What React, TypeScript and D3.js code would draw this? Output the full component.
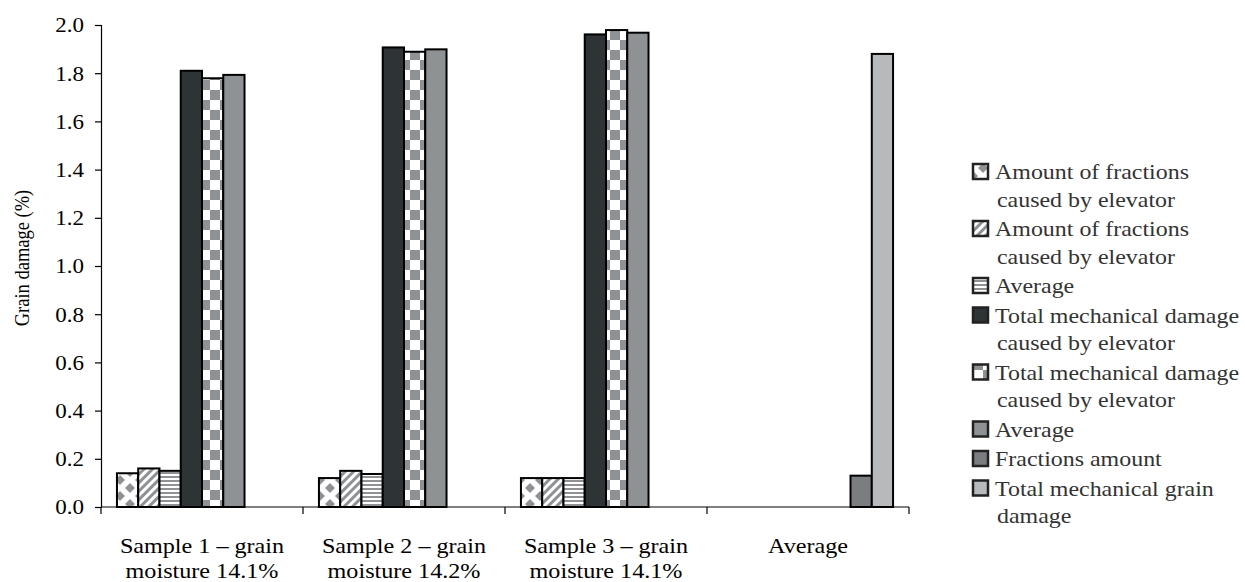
import { useEffect, useRef } from 'react'
import * as d3 from 'd3'

// categories (two text lines each)
const categoryLines = [
  ['Sample 1 – grain', 'moisture 14.1%'],
  ['Sample 2 – grain', 'moisture 14.2%'],
  ['Sample 3 – grain', 'moisture 14.1%'],
  ['Average'],
]

const seriesNames = [
  'Amount of fractions caused by elevator',
  'Amount of fractions caused by elevator',
  'Average',
  'Total mechanical damage caused by elevator',
  'Total mechanical damage caused by elevator',
  'Average',
  'Fractions amount',
  'Total mechanical grain damage',
]

// legend text wrapped like the original
const legendLines = [
  ['Amount of fractions', 'caused by elevator'],
  ['Amount of fractions', 'caused by elevator'],
  ['Average'],
  ['Total mechanical damage', 'caused by elevator'],
  ['Total mechanical damage', 'caused by elevator'],
  ['Average'],
  ['Fractions amount'],
  ['Total mechanical grain', 'damage'],
]

// series values per category (null = no bar)
const fractionsElevatorA = [0.14, 0.12, 0.12, null]
const fractionsElevatorB = [0.16, 0.15, 0.12, null]
const fractionsAverage = [0.15, 0.137, 0.12, null]
const totalDamageA = [1.81, 1.907, 1.961, null]
const totalDamageB = [1.779, 1.889, 1.979, null]
const totalAverage = [1.793, 1.899, 1.968, null]
const fractionsAmount = [null, null, null, 0.13]
const totalGrainDamage = [null, null, null, 1.88]

const yTicks = [0, 0.2, 0.4, 0.6, 0.8, 1.0, 1.2, 1.4, 1.6, 1.8, 2.0]

const fills = [
  'url(#pDiamond)',
  'url(#pDiag)',
  'url(#pHoriz)',
  '#2e3336',
  'url(#pChecker)',
  '#8f9295',
  '#7b7e80',
  '#b6babc',
]

type Datum = { cat: number; s: number; v: number }

export default () => {
  const svgRef = useRef<SVGSVGElement>(null)

  useEffect(() => {
    document.body.style.margin = '0'
    const series = [
      fractionsElevatorA,
      fractionsElevatorB,
      fractionsAverage,
      totalDamageA,
      totalDamageB,
      totalAverage,
      fractionsAmount,
      totalGrainDamage,
    ]

    const width = 1245,
      height = 582
    const left = 101,
      right = 909,
      top = 25,
      bottom = 507
    const font = '"Liberation Serif", "Times New Roman", serif'
    const sx = 1.15 // the original text is a little wide

    const svg = d3
      .select(svgRef.current)
      .attr('width', width)
      .attr('height', height)
      .style('background', '#fff')
    svg.selectAll('*').remove()

    // patterns
    const defs = svg.append('defs')
    const gray = '#8f9295'

    const pDia = defs
      .append('pattern')
      .attr('id', 'pDiamond')
      .attr('patternUnits', 'userSpaceOnUse')
      .attr('width', 20)
      .attr('height', 16)
    pDia.append('rect').attr('width', 20).attr('height', 16).attr('fill', '#fff')
    ;[
      [10, 8],
      [0, 0],
      [20, 0],
      [0, 16],
      [20, 16],
    ].forEach(([cx, cy]) => {
      pDia
        .append('path')
        .attr('d', `M${cx},${cy - 5}L${cx + 5},${cy}L${cx},${cy + 5}L${cx - 5},${cy}Z`)
        .attr('fill', gray)
    })

    const pDiag = defs
      .append('pattern')
      .attr('id', 'pDiag')
      .attr('patternUnits', 'userSpaceOnUse')
      .attr('width', 6)
      .attr('height', 6)
      .attr('patternTransform', 'rotate(45)')
    pDiag.append('rect').attr('width', 6).attr('height', 6).attr('fill', '#fff')
    pDiag.append('rect').attr('width', 3).attr('height', 6).attr('fill', gray)

    const pHoriz = defs
      .append('pattern')
      .attr('id', 'pHoriz')
      .attr('patternUnits', 'userSpaceOnUse')
      .attr('width', 4)
      .attr('height', 4)
    pHoriz.append('rect').attr('width', 4).attr('height', 4).attr('fill', '#fff')
    pHoriz.append('rect').attr('width', 4).attr('height', 2).attr('fill', gray)

    const pCheck = defs
      .append('pattern')
      .attr('id', 'pChecker')
      .attr('patternUnits', 'userSpaceOnUse')
      .attr('width', 20)
      .attr('height', 20)
    pCheck.append('rect').attr('width', 20).attr('height', 20).attr('fill', '#fff')
    pCheck.append('rect').attr('width', 10).attr('height', 10).attr('fill', gray)
    pCheck.append('rect').attr('x', 10).attr('y', 10).attr('width', 10).attr('height', 10).attr('fill', gray)

    // scales
    const x0 = d3
      .scaleBand<number>()
      .domain(d3.range(categoryLines.length))
      .range([left, right])
    const x1 = d3
      .scaleBand<number>()
      .domain(d3.range(seriesNames.length))
      .range([0, x0.bandwidth()])
      .paddingOuter(0.75)
    const y = d3.scaleLinear().domain([0, 2]).range([bottom, top])

    const data: Datum[] = []
    series.forEach((vals, s) =>
      vals.forEach((v, cat) => {
        if (v != null) data.push({ cat, s, v })
      })
    )

    // bars
    svg
      .append('g')
      .selectAll('rect')
      .data(data)
      .join('rect')
      .attr('x', (d) => (x0(d.cat) as number) + (x1(d.s) as number))
      .attr('y', (d) => y(d.v))
      .attr('width', x1.bandwidth())
      .attr('height', (d) => bottom - y(d.v))
      .attr('fill', (d) => fills[d.s])
      .attr('stroke', '#000')
      .attr('stroke-width', 2)

    // y axis
    const yAxis = svg
      .append('g')
      .attr('transform', `translate(${left},0)`)
      .call(d3.axisLeft(y).tickValues(yTicks).tickSize(6).tickFormat(d3.format('.1f')))
    yAxis.select('.domain').attr('stroke', '#000').attr('stroke-width', 1.2)
    yAxis.selectAll('.tick line').attr('stroke', '#000').attr('stroke-width', 1.2)
    yAxis
      .selectAll('.tick text')
      .attr('x', -17 / sx)
      .attr('dy', '0.34em')
      .attr('transform', `scale(${sx},1)`)
      .attr('font-family', font)
      .attr('font-size', 20)
      .attr('fill', '#000')

    // x axis
    const xAxis = svg.append('g').attr('transform', `translate(0,${bottom})`)
    xAxis
      .append('line')
      .attr('x1', left)
      .attr('x2', right)
      .attr('stroke', '#000')
      .attr('stroke-width', 1.2)
    xAxis
      .selectAll('line.tk')
      .data(d3.range(categoryLines.length + 1))
      .join('line')
      .attr('class', 'tk')
      .attr('x1', (i) => left + i * x0.step())
      .attr('x2', (i) => left + i * x0.step())
      .attr('y1', 0)
      .attr('y2', 7)
      .attr('stroke', '#000')
      .attr('stroke-width', 1.2)

    const catText = xAxis
      .selectAll('text')
      .data(categoryLines)
      .join('text')
      .attr(
        'transform',
        (_d, i) => `translate(${(x0(i) as number) + x0.bandwidth() / 2},0) scale(${sx},1)`
      )
      .attr('font-family', font)
      .attr('font-size', 21)
      .attr('fill', '#000')
      .attr('text-anchor', 'middle')
    catText
      .selectAll('tspan')
      .data((d) => d)
      .join('tspan')
      .attr('x', 0)
      .attr('y', (_d, j) => 46 + j * 25)
      .text((d) => d)

    // y title
    svg
      .append('text')
      .attr('transform', `translate(29,${(top + bottom) / 2 - 8}) scale(${sx},1) rotate(-90)`)
      .attr('text-anchor', 'middle')
      .attr('font-family', font)
      .attr('font-size', 18.5)
      .attr('fill', '#000')
      .text('Grain damage (%)')

    // legend
    const lg = svg.append('g').attr('transform', 'translate(973,0)')
    const lineH = 27.5,
      itemGap = 2
    let ly = 172
    legendLines.forEach((lines, i) => {
      lg.append('rect')
        .attr('x', 0)
        .attr('y', ly - 8)
        .attr('width', 15)
        .attr('height', 15)
        .attr('fill', fills[i])
        .attr('stroke', '#222')
        .attr('stroke-width', 2.5)
      lines.forEach((t, j) => {
        lg.append('text')
          .attr('transform', `translate(${j === 0 ? 22 : 24},${ly + 7}) scale(1.14,1)`)
          .attr('font-family', font)
          .attr('font-size', 21)
          .attr('fill', '#333')
          .text(t)
        ly += lineH
      })
      ly += itemGap
    })
  }, [])

  return <svg ref={svgRef}></svg>
}
